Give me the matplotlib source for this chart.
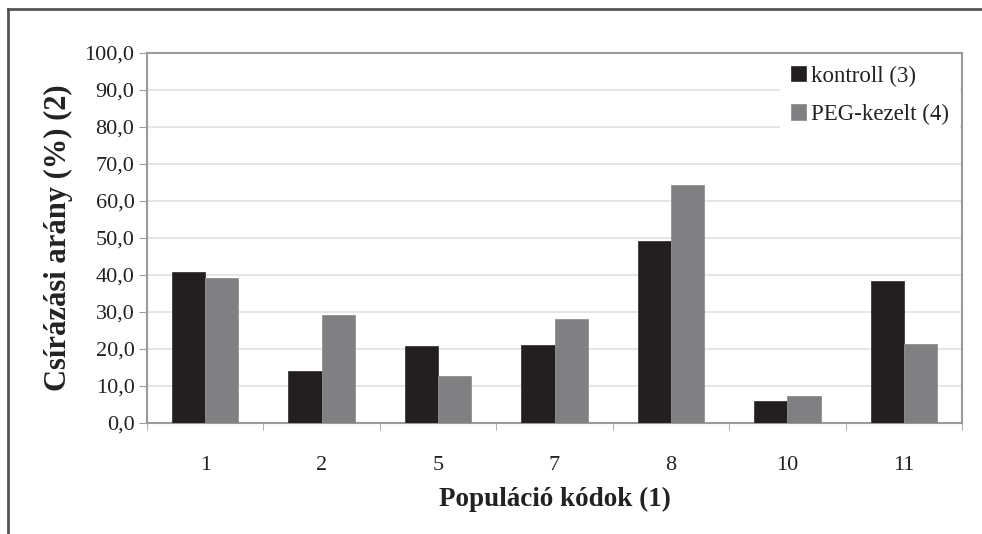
import numpy as np
import matplotlib.pyplot as plt
from matplotlib.lines import Line2D
from matplotlib.ticker import FuncFormatter

plt.rcParams['font.family'] = ['Liberation Serif', 'DejaVu Serif']

kodok = ['1', '2', '5', '7', '8', '10', '11']
kontroll = [40.8, 14.1, 20.7, 21.0, 49.1, 6.0, 38.5]
peg_kezelt = [39.2, 29.3, 12.6, 28.2, 64.2, 7.4, 21.4]

fig = plt.figure(figsize=(9.82, 5.34), dpi=100)
ax = fig.add_axes([147/982, 1-423/534, (962-147)/982, (423-53)/534])

x = np.arange(len(kodok))
w = 1/3.5
ax.bar(x - w/2, kontroll, w, color='#231f20', edgecolor='#3a3a3a', linewidth=0.6,
       label='kontroll (3)', zorder=3)
ax.bar(x + w/2, peg_kezelt, w, color='#808082', edgecolor='#909090', linewidth=0.6,
       label='PEG-kezelt (4)', zorder=3)

ax.set_xlim(-0.5, len(kodok) - 0.5)
ax.set_ylim(0, 100)
ax.set_yticks(np.arange(0, 101, 10))
ax.yaxis.set_major_formatter(FuncFormatter(lambda v, p: f'{v:.1f}'.replace('.', ',')))
ax.set_xticks(x)
ax.set_xticklabels(kodok)
ax.set_xticks(np.arange(-0.5, len(kodok)), minor=True)
ax.tick_params(axis='x', which='major', length=0, pad=24, labelsize=16)
ax.tick_params(axis='x', which='minor', length=5, color='#a0a0a0', direction='out')
ax.tick_params(axis='y', length=6, color='#a0a0a0', labelsize=16, pad=3, labelcolor='#222222')
ax.tick_params(axis='x', labelcolor='#222222')

ax.grid(axis='y', color='#e4e4e4', linewidth=1.3, zorder=0)
for s in ax.spines.values():
    s.set_color('#9a9a9a')
    s.set_linewidth(1.5)

ax.set_xlabel('Populáció kódok (1)', fontsize=19.5, fontweight='bold', labelpad=8,
              color='#222222')
ax.set_ylabel('Csírázási arány (%) (2)', fontsize=22, fontweight='bold', labelpad=8,
              color='#222222')

leg = ax.legend(loc='upper right', fontsize=16.5, frameon=True, fancybox=False,
                edgecolor='none', facecolor='white', framealpha=1,
                handlelength=0.65, handleheight=0.65, handletextpad=0.25,
                labelspacing=0.75, borderaxespad=0.1, borderpad=0.45)
leg.set_zorder(5)
for t in leg.get_texts():
    t.set_color('#222222')

# border of the panel (top and left)
fig.add_artist(Line2D([8/982, 1], [1-8.5/534, 1-8.5/534], color='#555555', linewidth=2))
fig.add_artist(Line2D([8/982, 8/982], [0, 1-8.5/534], color='#555555', linewidth=2))

fig.savefig('out.png', dpi=100)
